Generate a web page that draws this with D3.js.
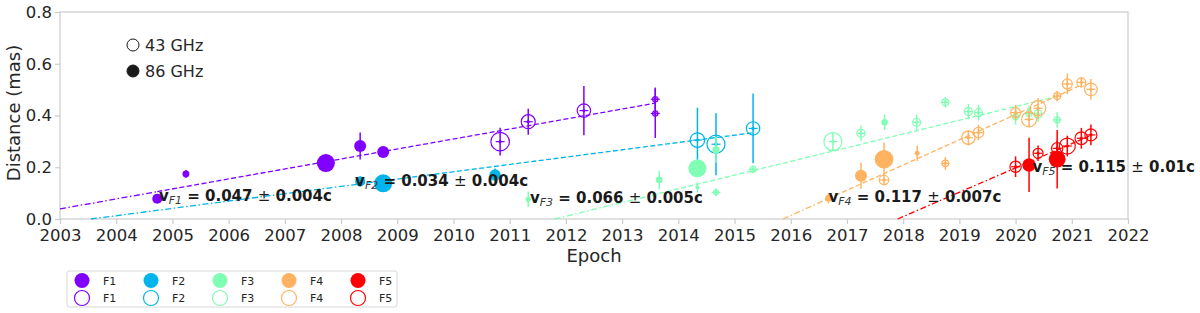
<!DOCTYPE html>
<html>
<head>
  <script src="https://cdnjs.cloudflare.com/ajax/libs/d3/7.8.5/d3.min.js"></script>
  <style>
    body { margin: 0; background: #fff; }
    svg { font-family: "DejaVu Sans", sans-serif; }
  </style>
</head>
<body>
<svg id="chart" width="1200" height="313"></svg>
<script>
// components and colours (rainbow colormap)
var comps = ["F1", "F2", "F3", "F4", "F5"];
var colors = ["#8000ff", "#00b5eb", "#80ffb4", "#ffb360", "#ff0000"];

// points: [epoch, distance (mas), error (mas), flux]
var F1_86 = [[2004.73, 0.078, 0.01, 0.25], [2005.24, 0.174, 0.015, 0.12], [2007.73, 0.216, 0.01, 0.81],
             [2008.34, 0.282, 0.052, 0.36], [2008.75, 0.259, 0.01, 0.36]];
var F1_43 = [[2010.83, 0.299, 0.054, 0.86], [2011.33, 0.376, 0.05, 0.49], [2012.32, 0.419, 0.095, 0.45],
             [2013.59, 0.463, 0.045, 0.07], [2013.59, 0.408, 0.095, 0.07]];
var F2_86 = [[2008.34, 0.145, 0.02, 0.25], [2008.75, 0.138, 0.01, 0.81], [2010.74, 0.170, 0.025, 0.32]];
var F2_43 = [[2014.34, 0.305, 0.125, 0.53], [2014.67, 0.289, 0.12, 0.81], [2015.33, 0.350, 0.135, 0.45]];
var F3_86 = [[2011.33, 0.076, 0.03, 0.07], [2013.66, 0.151, 0.035, 0.11], [2014.34, 0.196, 0.01, 0.81],
             [2014.34, 0.122, 0.02, 0.04], [2014.67, 0.267, 0.05, 0.13], [2017.67, 0.374, 0.03, 0.11]];
var F3_43 = [[2014.67, 0.103, 0.015, 0.06], [2015.33, 0.192, 0.015, 0.09], [2016.75, 0.299, 0.035, 0.81],
             [2017.25, 0.331, 0.03, 0.16], [2018.24, 0.374, 0.03, 0.16], [2018.75, 0.451, 0.02, 0.12],
             [2019.16, 0.415, 0.03, 0.16], [2019.34, 0.411, 0.03, 0.16], [2020.0, 0.395, 0.03, 0.09],
             [2020.24, 0.408, 0.03, 0.09], [2020.4, 0.406, 0.03, 0.16], [2020.74, 0.383, 0.03, 0.09]];
var F4_86 = [[2016.67, 0.080, 0.02, 0.11], [2017.25, 0.167, 0.05, 0.36], [2017.66, 0.231, 0.065, 0.87],
             [2018.25, 0.254, 0.03, 0.06]];
var F4_43 = [[2017.66, 0.151, 0.02, 0.22], [2018.75, 0.215, 0.025, 0.11], [2019.16, 0.314, 0.03, 0.45],
             [2019.34, 0.334, 0.03, 0.28], [2020.0, 0.411, 0.03, 0.25], [2020.24, 0.385, 0.03, 0.56],
             [2020.4, 0.428, 0.04, 0.59], [2020.74, 0.475, 0.02, 0.12], [2020.92, 0.522, 0.04, 0.25],
             [2021.17, 0.528, 0.02, 0.2], [2021.34, 0.501, 0.04, 0.4]];
var F5_86 = [[2020.24, 0.209, 0.105, 0.45], [2020.74, 0.231, 0.113, 0.7]];
var F5_43 = [[2020.0, 0.202, 0.04, 0.32], [2020.4, 0.254, 0.03, 0.25], [2020.74, 0.273, 0.03, 0.32],
             [2020.92, 0.282, 0.04, 0.64], [2021.17, 0.312, 0.04, 0.4], [2021.34, 0.325, 0.04, 0.36]];
var points86 = [F1_86, F2_86, F3_86, F4_86, F5_86];
var points43 = [F1_43, F2_43, F3_43, F4_43, F5_43];
var xErr = 0.08;

// linear fits: [epoch at start, distance at start, slope mas/yr, first data epoch, end epoch]
var fits = [[2003.0, 0.039, 0.0386, 2004.73, 2013.59],
            [2003.55, 0.0, 0.0283, 2008.34, 2015.33],
            [2011.8, 0.0, 0.053, 2013.66, 2020.74],
            [2015.86, 0.0, 0.0975, 2016.67, 2021.17],
            [2017.9, 0.0, 0.094, 2020.0, 2021.34]];

// speed labels: [epoch, distance, speed, error]
var speeds = [[2004.76, 0.070, "0.047", "0.004c"],
              [2008.25, 0.128, "0.034", "0.004c"],
              [2011.36, 0.062, "0.066", "0.005c"],
              [2016.67, 0.066, "0.117", "0.007c"],
              [2020.30, 0.182, "0.115", "0.01c"]];

var xTicks = d3.range(2003, 2023);
var yTicks = [0.0, 0.2, 0.4, 0.6, 0.8];

var svg = d3.select("#chart");
var x = d3.scaleLinear().domain([2003, 2022]).range([60, 1128]);
var y = d3.scaleLinear().domain([0, 0.8]).range([219, 12]);
var r = d3.scaleSqrt().domain([0, 1]).range([0, 10]);
var txt = "#262626", spine = "#cccccc";

// frame
svg.append("rect").attr("x", 60).attr("y", 12).attr("width", 1068).attr("height", 207)
  .attr("fill", "none").attr("stroke", spine).attr("stroke-width", 1.2);

var xAxis = svg.append("g").attr("transform", "translate(0,219)")
  .call(d3.axisBottom(x).tickValues(xTicks).tickFormat(d3.format("d")).tickSize(5).tickPadding(5));
var yAxis = svg.append("g").attr("transform", "translate(60,0)")
  .call(d3.axisLeft(y).tickValues(yTicks).tickFormat(d3.format(".1f")).tickSize(5).tickPadding(3));
[xAxis, yAxis].forEach(function(a) {
  a.select(".domain").remove();
  a.selectAll("line").attr("stroke", spine).attr("stroke-width", 1.2);
  a.selectAll("text").attr("fill", txt).style("font-size", "16.5px").style("font-family", "DejaVu Sans");
});

svg.append("text").attr("x", 594).attr("y", 262).attr("text-anchor", "middle")
  .attr("fill", txt).style("font-size", "18px").text("Epoch");
svg.append("text").attr("transform", "translate(20,113) rotate(-90)").attr("text-anchor", "middle")
  .attr("fill", txt).style("font-size", "18px").text("Distance (mas)");

// fit lines
var plot = svg.append("g");
fits.forEach(function(f, i) {
  var at = function(t) { return f[1] + f[2] * (t - f[0]); };
  plot.append("line").attr("x1", x(f[0])).attr("y1", y(at(f[0])))
    .attr("x2", x(f[3])).attr("y2", y(at(f[3])))
    .attr("stroke", colors[i]).attr("stroke-width", 1.3).attr("stroke-dasharray", "6,2.5,1.5,2.5");
  plot.append("line").attr("x1", x(f[3])).attr("y1", y(at(f[3])))
    .attr("x2", x(f[4])).attr("y2", y(at(f[4])))
    .attr("stroke", colors[i]).attr("stroke-width", 1.3).attr("stroke-dasharray", "5,2.5");
});

// markers
comps.forEach(function(c, i) {
  var g = plot.append("g");
  g.selectAll("circle.f").data(points86[i]).enter().append("circle")
    .attr("cx", d => x(d[0])).attr("cy", d => y(d[1])).attr("r", d => r(d[3]))
    .attr("fill", colors[i]);
  g.selectAll("circle.o").data(points43[i]).enter().append("circle")
    .attr("cx", d => x(d[0])).attr("cy", d => y(d[1])).attr("r", d => r(d[3]))
    .attr("fill", "none").attr("stroke", colors[i]).attr("stroke-width", 1.2);
  var all = points86[i].concat(points43[i]);
  g.selectAll("line.ey").data(all).enter().append("line")
    .attr("x1", d => x(d[0])).attr("x2", d => x(d[0]))
    .attr("y1", d => y(d[1] - d[2])).attr("y2", d => y(d[1] + d[2]))
    .attr("stroke", colors[i]).attr("stroke-width", 1.5);
  g.selectAll("line.ex").data(points43[i]).enter().append("line")
    .attr("x1", d => x(d[0] - xErr)).attr("x2", d => x(d[0] + xErr))
    .attr("y1", d => y(d[1])).attr("y2", d => y(d[1]))
    .attr("stroke", colors[i]).attr("stroke-width", 1.2);
  g.selectAll("circle.dot").data(all).enter().append("circle")
    .attr("cx", d => x(d[0])).attr("cy", d => y(d[1])).attr("r", 1.6)
    .attr("fill", colors[i]);
});

// speed labels
speeds.forEach(function(s, i) {
  var t = svg.append("text").attr("x", x(s[0])).attr("y", y(s[1]))
    .attr("fill", "#1a1a1a").style("font-size", "15px").style("font-weight", "bold");
  t.append("tspan").text("v");
  t.append("tspan").attr("dy", 3.5).style("font-weight", "normal").style("font-style", "oblique")
    .style("font-size", "11px").attr("fill", "#3a3a3a").text(comps[i]);
  t.append("tspan").attr("dy", -3.5).text(" = " + s[2] + " ");
  t.append("tspan").style("font-weight", "normal").text("\u00b1");
  t.append("tspan").text(" " + s[3]);
});

// frequency legend
var fl = svg.append("g").style("font-size", "16px").attr("fill", txt);
[["43 GHz", false], ["86 GHz", true]].forEach(function(d, i) {
  fl.append("circle").attr("cx", 133).attr("cy", 45 + i * 26).attr("r", 6)
    .attr("fill", d[1] ? "#1a1a1a" : "#fff").attr("stroke", "#1a1a1a").attr("stroke-width", 1);
  fl.append("text").attr("x", 145).attr("y", 51 + i * 26).text(d[0]);
});

// component legend
var lg = svg.append("g");
lg.append("rect").attr("x", 67).attr("y", 271).attr("width", 330).attr("height", 36).attr("rx", 2)
  .attr("fill", "#fff").attr("stroke", "#d8d8d8").attr("stroke-width", 1);
comps.forEach(function(c, i) {
  var cx = 82 + i * 69;
  lg.append("circle").attr("cx", cx).attr("cy", 280.5).attr("r", 7.5).attr("fill", colors[i]);
  lg.append("circle").attr("cx", cx).attr("cy", 298).attr("r", 7.5)
    .attr("fill", "none").attr("stroke", colors[i]).attr("stroke-width", 1.2);
  lg.append("text").attr("x", cx + 21).attr("y", 284.5).attr("fill", txt).style("font-size", "11px").text(c);
  lg.append("text").attr("x", cx + 21).attr("y", 302).attr("fill", txt).style("font-size", "11px").text(c);
});
</script>
</body>
</html>
